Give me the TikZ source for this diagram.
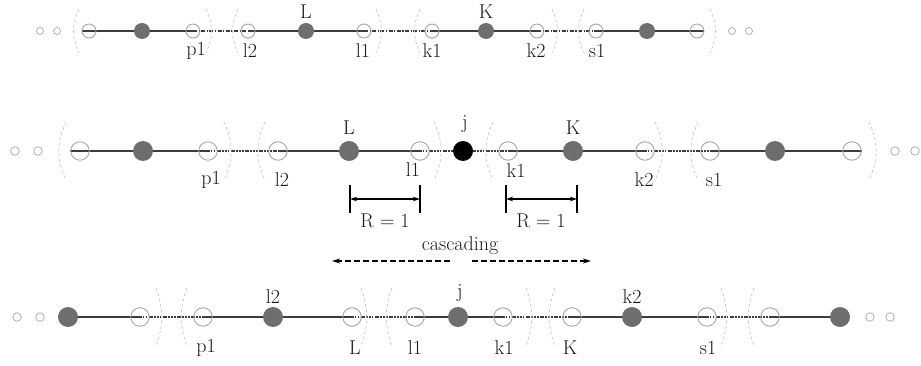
\documentclass[tikz,border=0pt]{standalone}
\usepackage{fontspec}
\usetikzlibrary{arrows.meta,backgrounds}
\definecolor{opengray}{HTML}{A6A6A6}
\definecolor{fillgray}{HTML}{6E6E6E}
\definecolor{linegray}{HTML}{3C3C3C}
\definecolor{arcgray}{HTML}{C4C4C4}
\begin{document}
\begin{tikzpicture}[x=1pt,y=-1pt,
  lbl/.style={font=\fontsize{20}{22}\selectfont\addfontfeature{FakeBold=1.2}, inner sep=0pt, text=black!90},
  opA/.style={circle, draw=opengray, line width=0.9pt, minimum size=14pt, inner sep=0pt},
  fiA/.style={circle, fill=fillgray, minimum size=16pt, inner sep=0pt},
  opB/.style={circle, draw=opengray, line width=0.9pt, minimum size=18.5pt, inner sep=0pt},
  fiB/.style={circle, fill=fillgray, minimum size=20pt, inner sep=0pt},
  blkB/.style={circle, fill=black, minimum size=20pt, inner sep=0pt},
  tinyA/.style={circle, draw=opengray, line width=0.7pt, minimum size=7pt, inner sep=0pt},
  tinyB/.style={circle, draw=opengray, line width=0.7pt, minimum size=8.5pt, inner sep=0pt},
  solidseg/.style={draw=linegray, line width=1.9pt},
  dashdotseg/.style={draw=linegray, line width=1.6pt, dash pattern=on 4pt off 1.5pt on 1.2pt off 1.5pt},
  dotseg/.style={draw=linegray, line width=1.6pt, dash pattern=on 1.5pt off 1.4pt on 1.5pt off 1.4pt on 1.5pt off 1.4pt on 4pt off 1.4pt},
  arcline/.style={draw=arcgray, line width=0.7pt, dash pattern=on 3pt off 2.5pt},
  bar/.style={draw=black, line width=1.4pt},
  dimarrow/.style={draw=black, line width=1.1pt, {Stealth[length=7pt,width=4.5pt]}-{Stealth[length=7pt,width=4.5pt]}},
  casc/.style={draw=black, line width=1.3pt, dash pattern=on 6pt off 3pt, -{Stealth[length=8pt,width=5pt]}}
]
\useasboundingbox (0,0) rectangle (921,366);

% ---------------- Row 1 ----------------
\node[tinyA] (t1a) at (40,31) {};
\node[tinyA] (t1b) at (57,31) {};
\node[tinyA] (t1c) at (732,31) {};
\node[tinyA] (t1d) at (749,31) {};
\node[opA] (a1) at (89,31) {};
\node[fiA] (a2) at (142,31) {};
\node[opA] (a3) at (193,31) {};
\node[opA] (a4) at (248,31) {};
\node[fiA] (a5) at (306,31) {};
\node[opA] (a6) at (364,31) {};
\node[opA] (a7) at (432,31) {};
\node[fiA] (a8) at (486,31) {};
\node[opA] (a9) at (537,31) {};
\node[opA] (a10) at (596,31) {};
\node[fiA] (a11) at (647,31) {};
\node[opA] (a12) at (697,31) {};
\begin{scope}[on background layer]
  \path[solidseg] (a1.west) -- (a3.center);
  \path[dashdotseg] (a3.center) -- (a4.center);
  \path[solidseg] (a4.center) -- (a6.center);
  \path[dashdotseg] (a6.center) -- (a7.center);
  \path[solidseg] (a7.center) -- (a9.center);
  \path[dashdotseg] (a9.center) -- (a10.center);
  \path[solidseg] (a10.center) -- (a12.east);
\end{scope}
\foreach \x in {77,236,418,582} {\path[arcline] (\x+2,9) to[bend right=25] (\x+2,53);}
\foreach \x in {208,378,554,712} {\path[arcline] (\x-2,9) to[bend left=25] (\x-2,53);}
\node[lbl] (la1) at (196,51) {p1};
\node[lbl] (la2) at (250,51) {l2};
\node[lbl] (la3) at (363,51) {l1};
\node[lbl] (la4) at (432,51) {k1};
\node[lbl] (la5) at (536,51) {k2};
\node[lbl] (la6) at (597,51) {s1};
\node[lbl] (la7) at (306,12) {L};
\node[lbl] (la8) at (486,12) {K};

% ---------------- Row 2 ----------------
\node[tinyB] (t2a) at (15,151) {};
\node[tinyB] (t2b) at (38,151) {};
\node[tinyB] (t2c) at (895,151) {};
\node[tinyB] (t2d) at (915,151) {};
\node[opB] (b1) at (80,151) {};
\node[fiB] (b2) at (143,151) {};
\node[opB] (b3) at (208,151) {};
\node[opB] (b4) at (278,151) {};
\node[fiB] (b5) at (349,151) {};
\node[opB] (b6) at (420,151) {};
\node[blkB] (bj) at (463,151) {};
\node[opB] (b7) at (508,151) {};
\node[fiB] (b8) at (573,151) {};
\node[opB] (b9) at (645,151) {};
\node[opB] (b10) at (710,151) {};
\node[fiB] (b11) at (775,151) {};
\node[opB] (b12) at (852,151) {};
\begin{scope}[on background layer]
  \path[solidseg] (b1.west) -- (b3.center);
  \path[dotseg] (b3.center) -- (b4.center);
  \path[solidseg] (b4.center) -- (b6.center);
  \path[dotseg] (b6.center) -- (bj.center);
  \path[dotseg] (bj.center) -- (b7.center);
  \path[solidseg] (b7.center) -- (b9.center);
  \path[dotseg] (b9.center) -- (b10.center);
  \path[solidseg] (b10.center) -- (b12.east);
\end{scope}
\foreach \x in {63,262,490,695} {\path[arcline] (\x+3,122) to[bend right=25] (\x+3,180);}
\foreach \x in {227,437,658,872} {\path[arcline] (\x-3,122) to[bend left=25] (\x-3,180);}
\node[lbl] (lb1) at (211,180) {p1};
\node[lbl] (lb2) at (282,180) {l2};
\node[lbl] (lb3) at (413,170) {l1};
\node[lbl] (lb4) at (516,171) {k1};
\node[lbl] (lb5) at (644,180) {k2};
\node[lbl] (lb6) at (714,180) {s1};
\node[lbl] (lb7) at (349,128) {L};
\node[lbl] (lb8) at (465,124) {j};
\node[lbl] (lb9) at (573,128) {K};

% R = 1 dimensions
\coordinate (r1a) at (350,185); \coordinate (r1b) at (350,213);
\coordinate (r1c) at (420,185); \coordinate (r1d) at (420,213);
\coordinate (r1e) at (350,199); \coordinate (r1f) at (420,199);
\path[bar] (r1a) -- (r1b);
\path[bar] (r1c) -- (r1d);
\path[dimarrow] (r1e) -- (r1f);
\node[lbl] (rlab1) at (385,221) {R = 1};
\coordinate (r2a) at (506,185); \coordinate (r2b) at (506,213);
\coordinate (r2c) at (577,185); \coordinate (r2d) at (577,213);
\coordinate (r2e) at (506,199); \coordinate (r2f) at (577,199);
\path[bar] (r2a) -- (r2b);
\path[bar] (r2c) -- (r2d);
\path[dimarrow] (r2e) -- (r2f);
\node[lbl] (rlab2) at (541,221) {R = 1};

% cascading
\node[lbl] (casctxt) at (460,246) {cascading};
\coordinate (cl0) at (450,261); \coordinate (cl1) at (332,261);
\coordinate (cr0) at (472,261); \coordinate (cr1) at (591,261);
\path[casc] (cl0) -- (cl1);
\path[casc] (cr0) -- (cr1);

% ---------------- Row 3 ----------------
\node[tinyB] (t3a) at (17,317) {};
\node[tinyB] (t3b) at (40,317) {};
\node[tinyB] (t3c) at (870,317) {};
\node[tinyB] (t3d) at (890,317) {};
\node[fiB] (c1) at (68,317) {};
\node[opB] (c2) at (140,317) {};
\node[opB] (c3) at (203,317) {};
\node[fiB] (c4) at (273,317) {};
\node[opB] (c5) at (352,317) {};
\node[opB] (c6) at (415,317) {};
\node[fiB] (c7) at (458,317) {};
\node[opB] (c8) at (503,317) {};
\node[opB] (c9) at (572,317) {};
\node[fiB] (c10) at (632,317) {};
\node[opB] (c11) at (707,317) {};
\node[opB] (c12) at (770,317) {};
\node[fiB] (c13) at (840,317) {};
\begin{scope}[on background layer]
  \path[solidseg] (c1.center) -- (c2.center);
  \path[dotseg] (c2.center) -- (c3.center);
  \path[solidseg] (c3.center) -- (c5.center);
  \path[dotseg] (c5.center) -- (c6.center);
  \path[solidseg] (c6.center) -- (c8.center);
  \path[dotseg] (c8.center) -- (c9.center);
  \path[solidseg] (c9.center) -- (c11.center);
  \path[dotseg] (c11.center) -- (c12.center);
  \path[solidseg] (c12.center) -- (c13.center);
\end{scope}
\foreach \x in {158,363,528,723} {\path[arcline] (\x-2,288) to[bend left=20] (\x-2,346);}
\foreach \x in {185,390,553,752} {\path[arcline] (\x+2,288) to[bend right=20] (\x+2,346);}
\node[lbl] (lc1) at (206,348) {p1};
\node[lbl] (lc2) at (355,348) {L};
\node[lbl] (lc3) at (415,348) {l1};
\node[lbl] (lc4) at (504,348) {k1};
\node[lbl] (lc5) at (570,348) {K};
\node[lbl] (lc6) at (708,348) {s1};
\node[lbl] (lc7) at (273,297) {l2};
\node[lbl] (lc8) at (460,293) {j};
\node[lbl] (lc9) at (632,297) {k2};
\end{tikzpicture}
\end{document}
